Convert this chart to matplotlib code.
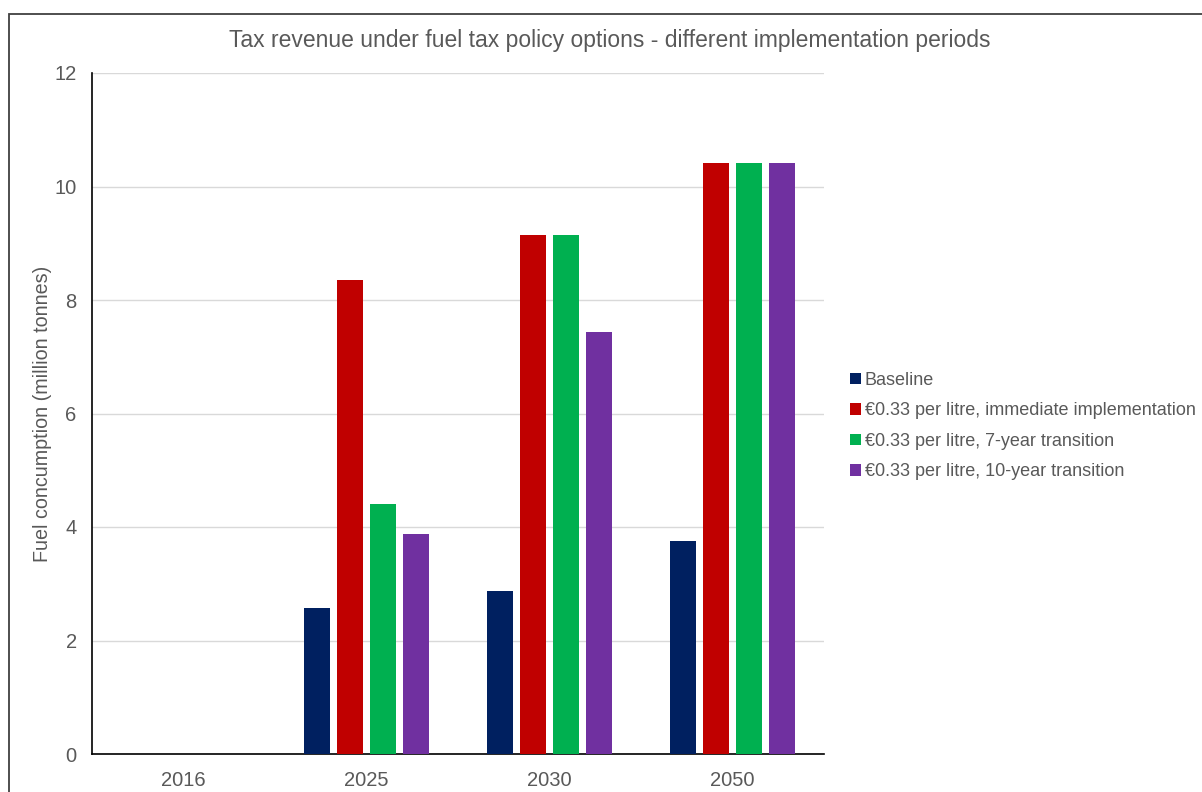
import matplotlib.pyplot as plt
import numpy as np
from matplotlib.patches import Rectangle

plt.rcParams['font.family'] = ['Liberation Sans', 'DejaVu Sans']

years = ["2016", "2025", "2030", "2050"]
series_names = [
    "Baseline",
    "€0.33 per litre, immediate implementation",
    "€0.33 per litre, 7-year transition",
    "€0.33 per litre, 10-year transition",
]
baseline = [0, 2.58, 2.88, 3.75]
immediate = [0, 8.35, 9.14, 10.42]
transition_7yr = [0, 4.41, 9.14, 10.42]
transition_10yr = [0, 3.88, 7.43, 10.42]
colors = ["#002060", "#C00000", "#00B050", "#7030A0"]

text_col = "#595959"

fig = plt.figure(figsize=(12.02, 7.92), dpi=100)
ax = fig.add_axes([92 / 1202, 38 / 792, 732 / 1202, 681 / 792])

x = np.arange(len(years))
width = 0.142
step = 0.18
all_series = [baseline, immediate, transition_7yr, transition_10yr]
handles = []
for i, (vals, name, c) in enumerate(zip(all_series, series_names, colors)):
    b = ax.bar(x + (i - 1.5) * step, vals, width, color=c, label=name, linewidth=0, zorder=3)
    handles.append(b)

ax.set_xlim(-0.5, len(years) - 0.5)
ax.set_ylim(0, 12)
ax.set_yticks(range(0, 13, 2))
ax.set_xticks(x)
ax.set_xticklabels(years)
ax.tick_params(axis='both', length=0, labelsize=14.5, colors=text_col)
ax.tick_params(axis='x', pad=12)
ax.tick_params(axis='y', pad=11)
ax.yaxis.grid(True, color="#D9D9D9", linewidth=1, zorder=0)
ax.set_axisbelow(True)
for side in ["top", "right"]:
    ax.spines[side].set_visible(False)
for side in ["left", "bottom"]:
    ax.spines[side].set_color("#000000")
    ax.spines[side].set_linewidth(1.2)

ax.set_ylabel("Fuel concumption (million tonnes)", fontsize=14.2, color=text_col)
ax.yaxis.set_label_coords(-40 / 732, 0.5)
fig.text(610 / 1202, 1 - 40 / 792, "Tax revenue under fuel tax policy options - different implementation periods",
         ha='center', va='center', fontsize=16.5, color=text_col)

leg = fig.legend(handles=handles, loc='center left', bbox_to_anchor=(834 / 1202, 1 - 426 / 792),
                 frameon=False, fontsize=13, handlelength=0.6, handleheight=0.6,
                 handletextpad=0.2, labelspacing=0.75, labelcolor=text_col)

# outer chart border
fig.patches.append(Rectangle((8.5 / 1202, -0.1), 1.2, 1.1 - 13.5 / 792, transform=fig.transFigure,
                             fill=False, edgecolor="#404040", linewidth=1.3))

fig.savefig("out.png", dpi=100)
